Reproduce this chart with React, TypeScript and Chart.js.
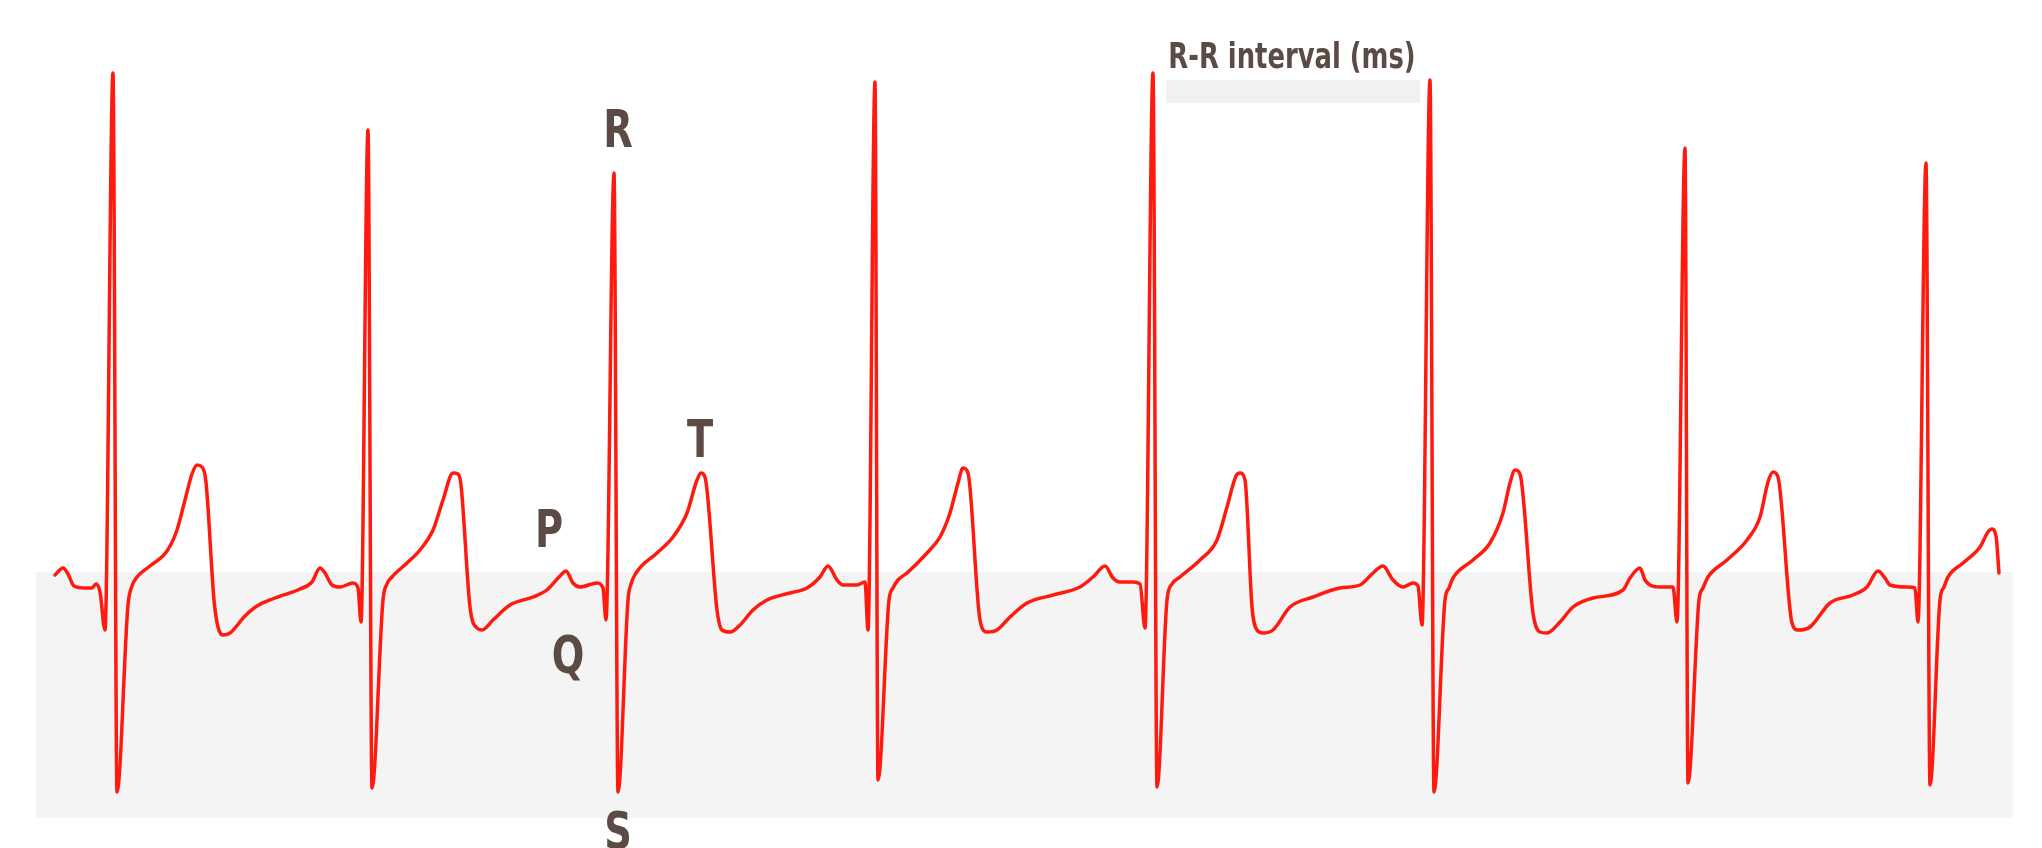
import React, { useEffect, useRef } from "react";
import { Chart, registerables } from "chart.js";

Chart.register(...registerables);

// Time axis (samples) and amplitude of the ECG trace
const sampleT: number[] = [
  55, 63, 68, 74, 85, 92, 96, 100, 105,
  113, 117, 128, 132, 137, 150, 167, 177, 185, 192, 197, 202, 206, 214, 218, 223, 230, 245, 257, 275, 300, 312, 320, 325, 332, 340, 353, 358, 361,
  368, 372, 383, 387, 392, 407, 420, 433, 443, 453, 458, 461, 470, 477, 482, 493, 510, 533, 547, 560, 566, 573, 580, 597, 603, 606,
  614, 618, 628, 631, 636, 657, 673, 687, 697, 701, 705, 717, 722, 730, 740, 753, 767, 790, 807, 820, 828, 837, 843, 857, 865, 868,
  875, 878, 889, 893, 898, 907, 927, 940, 950, 958, 963, 968, 980, 987, 997, 1010, 1027, 1053, 1080, 1093, 1105, 1113, 1120, 1133, 1140, 1145,
  1153, 1157, 1167, 1172, 1180, 1200, 1217, 1227, 1236, 1240, 1245, 1252, 1257, 1263, 1273, 1290, 1313, 1340, 1360, 1373, 1383, 1393, 1403, 1413, 1418, 1422,
  1430, 1434, 1445, 1449, 1453, 1473, 1490, 1503, 1510, 1515, 1520, 1533, 1540, 1547, 1560, 1573, 1593, 1623, 1630, 1640, 1645, 1650, 1660, 1673, 1677,
  1685, 1688, 1699, 1703, 1708, 1727, 1747, 1760, 1768, 1773, 1778, 1792, 1798, 1810, 1830, 1853, 1867, 1878, 1885, 1890, 1907, 1915, 1918,
  1926, 1930, 1940, 1944, 1948, 1963, 1980, 1988, 1992, 1996, 1999,
];

const amplitude: number[] = [
  0.12, 0.19, 0.13, 0.01, -0.01, -0.01, 0.03, -0.05, -0.43,
  5.14, -2.05, -0.18, 0.01, 0.1, 0.21, 0.36, 0.57, 0.87, 1.13, 1.22, 1.2, 1.05, -0.13, -0.4, -0.48, -0.46, -0.29, -0.19, -0.11, -0.02, 0.05, 0.19, 0.14, 0.02, 0.0, 0.04, -0.01, -0.35,
  4.57, -2.01, -0.13, 0.03, 0.1, 0.24, 0.37, 0.57, 0.87, 1.14, 1.13, 1.02, -0.2, -0.41, -0.43, -0.33, -0.18, -0.1, -0.03, 0.11, 0.16, 0.04, 0.0, 0.04, -0.01, -0.33,
  4.14, -2.05, -0.13, 0.03, 0.14, 0.34, 0.5, 0.74, 1.07, 1.14, 1.1, -0.23, -0.43, -0.45, -0.38, -0.23, -0.13, -0.06, -0.01, 0.1, 0.21, 0.07, 0.02, 0.02, 0.05, -0.43,
  5.05, -1.93, -0.13, -0.01, 0.07, 0.14, 0.34, 0.5, 0.74, 1.04, 1.19, 1.14, -0.33, -0.45, -0.43, -0.3, -0.16, -0.08, 0.0, 0.1, 0.21, 0.09, 0.05, 0.05, 0.03, -0.41,
  5.14, -2.0, -0.13, 0.03, 0.1, 0.27, 0.47, 0.8, 1.11, 1.14, 1.07, -0.2, -0.43, -0.46, -0.43, -0.2, -0.1, -0.01, 0.02, 0.14, 0.21, 0.07, 0.0, 0.04, 0.01, -0.38,
  5.07, -2.05, -0.13, -0.01, 0.09, 0.27, 0.44, 0.74, 1.04, 1.17, 1.13, -0.26, -0.45, -0.46, -0.35, -0.2, -0.11, -0.03, 0.09, 0.19, 0.07, 0.02, 0.0, 0.0, -0.35,
  4.39, -1.96, -0.13, -0.01, 0.1, 0.27, 0.47, 0.7, 1.05, 1.15, 1.1, -0.36, -0.43, -0.4, -0.16, -0.08, 0.0, 0.16, 0.09, 0.02, 0.0, -0.01, -0.35,
  4.24, -1.98, -0.13, 0.0, 0.1, 0.24, 0.4, 0.55, 0.58, 0.51, 0.14,
];

// Wave labels: text, time, amplitude (baseline of text)
const waveLabels: string[] = ["R", "T", "P", "Q", "S"];
const waveLabelT: number[] = [618, 700, 549, 568, 618];
const waveLabelAmp: number[] = [4.4, 1.3, 0.4, -0.86, -2.62];

// R-R interval caption and its bar
const rrCaption = "R-R interval (ms)";
const rrCaptionT = 1292;
const rrCaptionAmp = 5.19;
const rrBarT: number[] = [1166, 1420];
const rrBarAmp: number[] = [5.07, 4.84];

// Shaded band below the baseline
const bandT: number[] = [36, 2013];
const bandAmp: number[] = [0.15, -2.31];

const axisT: number[] = [0, 2042];
const axisAmp: number[] = [-2.61, 5.87];

const LABEL_FONT = "'Liberation Sans Narrow', 'DejaVu Sans Condensed', 'Roboto', sans-serif";

function drawCondensed(ctx: CanvasRenderingContext2D, text: string, x: number, y: number, squeeze: number) {
  ctx.save();
  ctx.translate(x, y);
  ctx.scale(squeeze, 1);
  ctx.fillText(text, 0, 0);
  ctx.restore();
}

const decorPlugin = {
  id: "ecgDecor",
  beforeDatasetsDraw(chart: any) {
    const { ctx, scales } = chart;
    const xs = scales.x;
    const ys = scales.y;
    ctx.save();
    ctx.fillStyle = "#f4f4f4";
    const bx0 = xs.getPixelForValue(bandT[0]);
    const bx1 = xs.getPixelForValue(bandT[1]);
    const by0 = ys.getPixelForValue(bandAmp[0]);
    const by1 = ys.getPixelForValue(bandAmp[1]);
    ctx.fillRect(bx0, by0, bx1 - bx0, by1 - by0);

    ctx.fillStyle = "#f1f1f1";
    const rx0 = xs.getPixelForValue(rrBarT[0]);
    const rx1 = xs.getPixelForValue(rrBarT[1]);
    const ry0 = ys.getPixelForValue(rrBarAmp[0]);
    const ry1 = ys.getPixelForValue(rrBarAmp[1]);
    ctx.fillRect(rx0, ry0, rx1 - rx0, ry1 - ry0);
    ctx.restore();
  },
  afterDatasetsDraw(chart: any) {
    const { ctx, scales } = chart;
    const xs = scales.x;
    const ys = scales.y;
    ctx.save();
    ctx.fillStyle = "#5c4a45";
    ctx.textAlign = "center";
    ctx.textBaseline = "alphabetic";
    ctx.font = `bold 52px ${LABEL_FONT}`;
    waveLabels.forEach((lab, i) => {
      drawCondensed(ctx, lab, xs.getPixelForValue(waveLabelT[i]), ys.getPixelForValue(waveLabelAmp[i]), 0.82);
    });
    ctx.font = `bold 35px ${LABEL_FONT}`;
    drawCondensed(ctx, rrCaption, xs.getPixelForValue(rrCaptionT), ys.getPixelForValue(rrCaptionAmp), 0.82);
    ctx.restore();
  },
};

export default function App() {
  const canvasRef = useRef<HTMLCanvasElement | null>(null);

  useEffect(() => {
    document.body.style.margin = "0";
    const canvas = canvasRef.current;
    if (!canvas) return;
    const points = sampleT.map((t, i) => ({ x: t, y: amplitude[i] }));
    const chart = new Chart(canvas, {
      type: "line",
      data: {
        datasets: [
          {
            label: "ECG",
            data: points,
            borderColor: "#ff1a10",
            borderWidth: 3.5,
            pointRadius: 0,
            fill: false,
            cubicInterpolationMode: "monotone",
            borderJoinStyle: "round",
            borderCapStyle: "round",
          },
        ],
      },
      options: {
        animation: false,
        responsive: false,
        maintainAspectRatio: false,
        devicePixelRatio: 1,
        layout: { padding: 0 },
        plugins: {
          legend: { display: false },
          tooltip: { enabled: false },
        },
        scales: {
          x: { type: "linear", display: false, min: axisT[0], max: axisT[1] },
          y: { type: "linear", display: false, min: axisAmp[0], max: axisAmp[1] },
        },
      },
      plugins: [decorPlugin],
    });
    return () => chart.destroy();
  }, []);

  return (
    <div style={{ width: 2042, height: 848, background: "#ffffff" }}>
      <canvas ref={canvasRef} width={2042} height={848} style={{ display: "block", width: 2042, height: 848 }} />
    </div>
  );
}
